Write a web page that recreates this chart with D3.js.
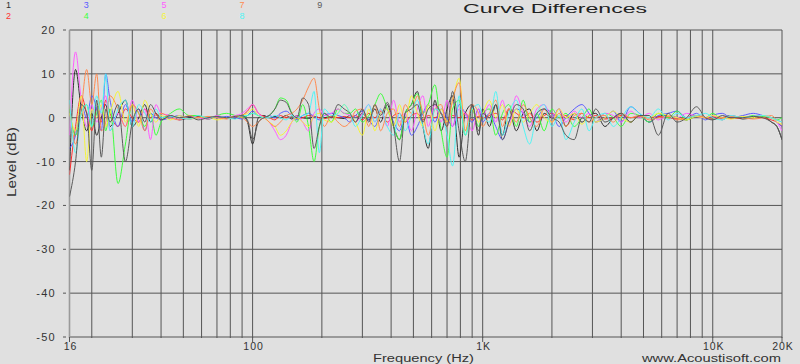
<!DOCTYPE html>
<html>
<head>
<meta charset="utf-8">
<script src="https://cdn.jsdelivr.net/npm/d3@7"></script>
<style>
  body { margin: 0; background: #e0e0e0; }
  text { font-family: "Liberation Sans", Arial, sans-serif; }
</style>
</head>
<body>
<svg id="chart" width="800" height="364"></svg>
<script>
"use strict";

// frequency points (Hz) shared by all curves
const freqs = [16, 17, 18, 19, 20, 21, 22, 23, 24, 26, 28, 30, 32, 34, 36, 38, 40,
  44, 48, 53, 58, 64, 70, 77, 84, 90, 95, 100, 106, 112,
  118, 125, 132, 140, 148, 156, 165, 175, 185, 195, 205, 220, 235, 250,
  265, 280, 300, 320, 340, 360, 385, 410, 435, 460, 490, 520, 550, 580, 620, 660, 700, 740, 790, 840, 900, 960, 1000,
  1070, 1140, 1220, 1300, 1400, 1500, 1600, 1720, 1850, 2000, 2150, 2300, 2500, 2700, 2900, 3100, 3400, 3700, 4000,
  4400, 4800, 5300, 5800, 6400, 7000, 7700, 8500, 9300, 10000, 11000, 12000, 13500, 15000, 16500, 18000, 19000, 20000];

// level differences (dB), one list per curve
const curve1 = [-12, 11, 2, -3, 1, -4, 0, 3, -2, 1, 4, -2, 0, 3, -1, 1, 0,
  0.5, -0.5, 0, 0.3, -0.3, 0.2, 0, -0.2, 0.5, -1, -6, 0, 0.5,
  0, 0.3, 0, 0.5, -0.3, 0.5, 0, -0.2, 0.3, 0, 0, 0.2, 0, -0.2,
  0.5, -1, 1, -0.5, 2, -1, 3, -2, -5, 1, 3, 6, -2, -7, 4, -3, 2, 5, -9, 1, 3, -4, 2,
  -2, 3, -4, 2, -3, 1, 2, -3, 1, 0, 2, -2, 1, -1, 0.5, 1, -2, 0, 1, -1, 0.5, -1, 0.3, 0.5, 0, -0.5, 0.3, 0, -0.3, 0, 0.5, -0.3, 0, 0.3, -1, -2, -5];
const curve2 = [-13, -2, 5, 1, -3, 2, -1, 4, 1, -2, 2, 0, -1, 2, 0, 1, -0.5,
  0.3, 0, -0.3, 0.2, 0, 0.3, -0.2, 0, 0.5, 1.5, 3, 1, 0.3,
  0, -0.5, 0.5, 0, 0.3, -0.2, 0, 0.5, 0.3, 0, -0.2, 0.2, 0, 0.3,
  0, 0.5, -0.5, 1, 0, 1.5, -1, 0.5, 1, -1, 0.5, 1, -0.5, 0.5, 0, 1, -1, 0.5, 0, 1, -0.5, 0.3, 0,
  0.5, 1, -0.5, 2, 1, 0, 1, -1, 0.5, 1, 0, 0.5, -0.5, 1, 0, 0.5, -0.3, 0, 0.5, 0, 0.3, 0, 0.3, 0, -0.3, 0, 0.3, 0, 0.2, 0, -0.2, 0, 0.3, 0, -0.5, -1, -2];
const curve3 = [-7, -4, 3, 0, 5, 2, -3, 10, 4, -2, 3, -1, 2, -3, 1, 0, -0.5,
  0, 0.5, -0.3, 0, 0.2, 0, 0.3, 0, -0.3, 0.5, 1.5, 0.5, 0,
  0.5, 0, 1, 1.5, 0.5, -0.5, 0.5, 1, 0.3, -0.5, 0.5, 1, 0.5, 0,
  -1, 0.5, 1.5, -0.5, -2, 1, 2, -1, -3, 0.5, -4, -2, 1, 3, -1, 2, 0, -2, 3, 1, -1, 2, -1,
  1, -2, -5, -1, 2, 1, -1, 0, 2, 1, -2, 0, 2, 3, 1, -1, 0, 1.5, -1, 2.5, 1, -1, 0.5, 1, 1.5, 0, 1, -0.5, 0.5, 1, 0, 0.5, 1, 0.5, 0, -1, -2];
const curve4 = [2, -4, 1, 3, -2, 1, 4, -3, 2, -15, -6, 3, 1, -2, 1, -4, -1,
  1, 2, 0.5, 0.5, -0.3, 0.5, 1, 0.5, 0, 0.5, 1, 0.5, 0,
  0.5, 2, 4.5, 4, 1, -1, 3, -2, -10, -2, 1, -1, 2, 1,
  1, 2, -1, 0.5, 3, 5.5, 2, -2, -5, 1, 3, 5.5, 1, 3, 7.5, -3, -9, 2, 4, -4, 2, -2, 1,
  2, -4, 1, 3, -2, 4, -1, 1, -3, 2, 0, 1, -2, 0, 2, -1, 1, 0, -2, 1, 0.5, -1, 1, 0, 1.5, -0.5, 0.5, 0, 1, -0.5, 0.5, 0, 0.5, 0.3, 0, -0.5, 0];
const curve5 = [-4, 15, 4, -2, 3, -1, 2, 5, -3, 1, -2, 4, -1, 2, -5, 3, 1,
  0.5, -0.5, 0.3, 0, -0.3, 0.5, 0, 0.5, 1, 2, 3, 1, 0,
  -1, -3, -5, -4, -1, 0.5, -1, -3, 1, 2, 0.5, 1, 2, 1,
  0.5, -1, 1, 3, -1, 2, -2, 4, -1, 1, -3, 2, 5, -2, 3, -1, 4, -2, 2, 1, -3, 2, 0.5,
  3, -1, 4, -2, 5, 1, -2, 2, 3, 0, 2, -1, 1.5, 0, 1, -1, 1, 0.5, -1, 1.5, 0, 1, -0.5, 0.5, 0, 1, 0.3, 0, 0.5, -0.5, 0.5, 0, 0.3, 0.5, 0, -1, -3];
const curve6 = [1, -3, 5, -10, 2, 0, 3, -2, 1, 6, -1, 3, -2, 4, 1, -1, 0.5,
  -0.5, 0.5, -0.3, 0, 0.3, -0.5, 0, 0.3, 0.5, 1, 2, 0.5, 0,
  -1, -2, -4, -3, -1, 0, -1, -2, 0.5, 1, -0.5, -1, 1, 3,
  1, -1, -4, 2, -3, 1, 2, -2, 3, -1, 5, 1, -2, 3, -3, 2, -1, 4, 9, -3, 2, -1, 1,
  4, 0, 3, -2, 2, -1, 1, 3, 0, -1, 2, 0, 1, -1.5, 0.5, -1, 0, 1.5, 0, -1, 0.5, 0, 1, 0.5, 0, -0.5, 0.3, 0, 0.5, 0, -0.3, 0.3, 0, 0.5, 0, -1, -1.5];
const curve7 = [3, -6, 2, 11, 3, 10, -3, -1, 5, 2, -2, 3, 1, -3, 2, 0.5, 1,
  0, -0.5, 0.5, 0, 0.3, 0, -0.3, 0.3, 0, -1, -2, -1, 0,
  -1, -2, -1, 0.5, 1, 2, 4, 7, 9, 2, -2, 0.5, -1, -2,
  -1, 1.5, 2, -2, 3, -3, 1, 2, -2, 3, 1, 5, 1, -4, 2, 3, -2, 4, 8, -3, 3, 1, -2,
  1, 4, -2, 2, -1, 3, 0, -2, 2, -1, 1, -2, 0.5, 1, -1, 0, 0.5, -1, 1, 0, 0.5, -0.5, 0, 0.3, -0.5, 0, 0.5, 0, -0.3, 0, 0.3, 0, -0.3, 0, 0.5, -0.5, -1];
const curve8 = [4, -8, 1, 3, -2, 5, 1, 10, -3, 2, 4, -2, 3, 1, -1, 2, 0,
  0.3, 0, -0.3, 0.5, 0, 0.3, 0, -0.3, 0.5, 0.5, 1, 0.5, 0,
  0, 0.5, 0, -0.5, 0.5, 0, 0.5, 1, 6, -8, 2, 0.5, 1, 3,
  1, -2, 0.5, 3, -1, 2, -2, -4, 1, -3, 0.5, 4, -2, -6, 2, 1, -4, -11, 5, -4, 2, 3, 0.5,
  -1, 6, -4, 1, 4, -2, -6, 1, 3, -2, 0.5, -5, -1, 2, -3, 0, 1, -2, 0, 2.5, 1, 0, 2, -0.5, 1, 0, 0.5, 1, 0, -0.5, 0.5, 0, 0.3, 0.5, 0, -0.5, -1];
const curve9 = [-18, -10, 3, 1, -12, 4, -9, 2, -1, 3, -10, -1, 2, -1, 3, 1, -0.5,
  0.5, 0, 0.3, -0.5, 0, 0.3, 0, 0.3, 0.5, -0.5, -5, -1, 0,
  0.5, 2, 4, 3.5, 1, 0, 4.5, 3, -7, -2, 1, 0, 3, 2,
  1, -1, 2, -1, 3, 0.5, 3.5, -2, -10, 1, 2, 3, -1, 2, 3, 1, -2, 6, -3, -10, 3, -3, 1,
  0, 3, -5, -1, 3, 2, -3, 1, 2, 0, -1, -4, -5, 0, -1, 2, -1, 0, 1, -1, 0.5, 0.5, -4, 1, -1, 0, 2.5, 0, -0.5, 0.5, 0, 0, 0.3, 0, -1, -2, -5];

const curves = [curve1, curve2, curve3, curve4, curve5, curve6, curve7, curve8, curve9];
const curveNames = ["1", "2", "3", "4", "5", "6", "7", "8", "9"];
const curveColors = ["#303030", "#ff3030", "#5a5aff", "#3cff3c", "#ff5cff", "#f4f43a", "#ff8a50", "#50f4f4", "#5a5a5a"];

const yTicks = [20, 10, 0, -10, -20, -30, -40, -50];
const xGrid = [20, 30, 40, 50, 60, 70, 80, 90, 100, 200, 300, 400, 500, 600, 700, 800, 900,
  1000, 2000, 3000, 4000, 5000, 6000, 7000, 8000, 9000, 10000, 20000];
const xTickValues = [16, 100, 1000, 10000, 20000];
const xTickLabels = ["16", "100", "1K", "10K", "20K"];

const svg = d3.select("#chart");
const plotLeft = 69.5, plotRight = 782, plotTop = 30, plotBottom = 337;

const x = d3.scaleLog().domain([16, 20000]).range([plotLeft, plotRight]);
const y = d3.scaleLinear().domain([-50, 20]).range([plotBottom, plotTop]);

svg.append("rect").attr("width", 800).attr("height", 364).attr("fill", "#e0e0e0");

// grid
svg.append("g").selectAll("line")
  .data(yTicks)
  .enter().append("line")
    .attr("x1", plotLeft).attr("x2", plotRight)
    .attr("y1", d => y(d)).attr("y2", d => y(d))
    .style("stroke", "#555").style("stroke-width", 1);

svg.append("g").selectAll("line")
  .data(xGrid)
  .enter().append("line")
    .attr("x1", d => x(d)).attr("x2", d => x(d))
    .attr("y1", plotTop).attr("y2", plotBottom + 1)
    .style("stroke", "#555").style("stroke-width", 1);

// left axis line
svg.append("line")
  .attr("x1", x(16)).attr("x2", x(16))
  .attr("y1", plotTop).attr("y2", plotBottom + 1)
  .style("stroke", "#9a9a9a").style("stroke-width", 1.6);

// y ticks and labels
svg.append("g").selectAll("line")
  .data(yTicks)
  .enter().append("line")
    .attr("x1", 63).attr("x2", 66)
    .attr("y1", d => y(d)).attr("y2", d => y(d))
    .style("stroke", "#555");

svg.append("g").selectAll("text")
  .data(yTicks)
  .enter().append("text")
    .attr("x", 56)
    .attr("y", d => y(d) + 4)
    .attr("text-anchor", "end")
    .style("font-size", "11px")
    .style("letter-spacing", "1.3px")
    .style("fill", "#333")
    .text(d => d);

// x ticks and labels
svg.append("g").selectAll("line")
  .data(xTickValues)
  .enter().append("line")
    .attr("x1", d => x(d)).attr("x2", d => x(d))
    .attr("y1", plotBottom).attr("y2", plotBottom + 5)
    .style("stroke", "#555");

svg.append("g").selectAll("text")
  .data(xTickValues)
  .enter().append("text")
    .attr("x", d => x(d) + 1)
    .attr("y", 350)
    .attr("text-anchor", "middle")
    .style("font-size", "10.5px")
    .style("letter-spacing", "1px")
    .style("fill", "#333")
    .text((d, i) => xTickLabels[i]);

// curves
svg.append("clipPath").attr("id", "plotClip")
  .append("rect").attr("x", plotLeft).attr("y", plotTop)
  .attr("width", plotRight - plotLeft).attr("height", plotBottom - plotTop);

const line = d3.line()
  .x((d, i) => x(freqs[i]))
  .y(d => y(d))
  .curve(d3.curveMonotoneX);

svg.append("g").attr("clip-path", "url(#plotClip)")
  .selectAll("path")
  .data(curves)
  .enter().append("path")
    .attr("d", line)
    .style("fill", "none")
    .style("stroke", (d, i) => curveColors[i])
    .style("stroke-width", 1);

// legend
svg.append("g").selectAll("text")
  .data(curveNames)
  .enter().append("text")
    .attr("x", (d, i) => 6 + Math.floor(i / 2) * 77.8)
    .attr("y", (d, i) => i % 2 ? 19 : 8)
    .style("font-size", "9px")
    .style("fill", (d, i) => curveColors[i])
    .text(d => d);

// titles
svg.append("text")
  .attr("x", 463).attr("y", 12.5)
  .attr("textLength", 184).attr("lengthAdjust", "spacingAndGlyphs")
  .style("font-size", "13px").style("fill", "#222")
  .text("Curve Differences");

svg.append("text")
  .attr("transform", "translate(16,162) rotate(-90)")
  .attr("text-anchor", "middle")
  .attr("textLength", 70).attr("lengthAdjust", "spacingAndGlyphs")
  .style("font-size", "12px").style("fill", "#333")
  .text("Level (dB)");

svg.append("text")
  .attr("x", 373).attr("y", 362)
  .attr("textLength", 101).attr("lengthAdjust", "spacingAndGlyphs")
  .style("font-size", "10px").style("fill", "#333")
  .text("Frequency (Hz)");

svg.append("text")
  .attr("x", 642).attr("y", 362)
  .attr("textLength", 139).attr("lengthAdjust", "spacingAndGlyphs")
  .style("font-size", "10px").style("fill", "#333")
  .text("www.Acoustisoft.com");
</script>
</body>
</html>
